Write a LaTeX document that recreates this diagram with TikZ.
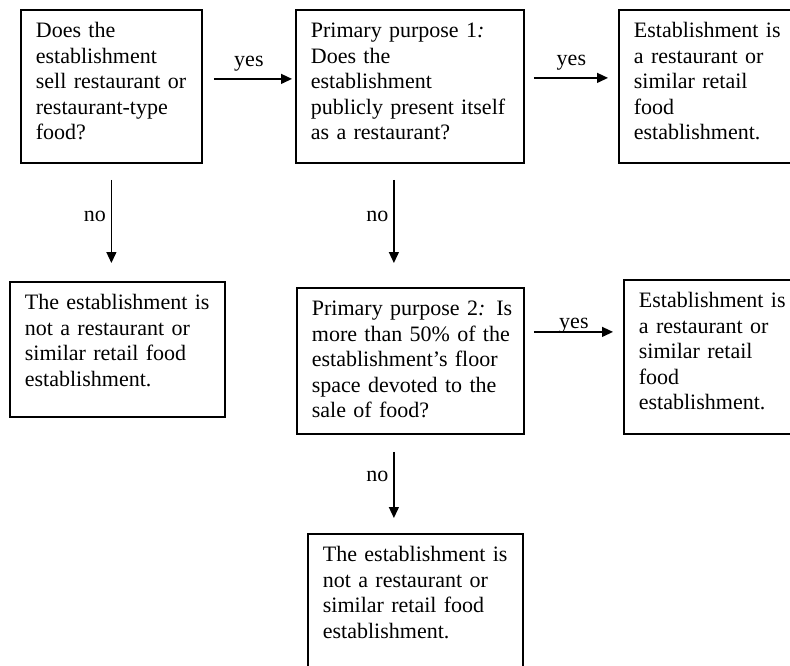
\documentclass[tikz,border=0pt]{standalone}
\usepackage{fontspec}
\setmainfont{Liberation Serif}
\usetikzlibrary{arrows.meta}

\begin{document}
\begin{tikzpicture}[x = 1pt, y = -1pt,
	box/.style = {draw, line width=1.8pt, anchor=north west, align=left, inner xsep=15pt, inner ysep=13pt, text height=15pt, font=\fontsize{22}{25.5}\selectfont},
	arr/.style = {line width=1.3pt, -{Triangle[length=11pt, width=10pt]}},
	lbl/.style = {font=\fontsize{22}{25.5}\selectfont, inner sep=2pt}]
	\useasboundingbox (0, 0) rectangle (790, 665);
	\clip (0, 0) rectangle (790, 665);
	% first row
	\node[box, text width=151pt, text depth=112pt] (sell) at (20, 9) {Does the\\ establishment\\ sell restaurant or\\ restaurant-type\\ food?};
	\node[box, text width=198pt, text depth=112pt] (purp1) at (295, 9) {Primary purpose 1\textit{:}\\ Does the\\ establishment\\ publicly present itself\\ as a restaurant?};
	\node[box, text width=160pt, text depth=112pt] (resto1) at (618, 9) {Establishment is\\ a restaurant or\\ similar retail\\ food\\ establishment.};
	% second row
	\node[box, text width=185pt, text depth=94pt] (notrest1) at (9, 281) {The establishment is\\ not a restaurant or\\ similar retail food\\ establishment.};
	\node[box, inner xsep=10pt, text width=207pt, text depth=105pt] (purp2) at (296, 287) {\hspace{5pt}Primary purpose 2\textit{:} Is\\ \hspace*{5pt}more than 50\% of the\\ \hspace*{5pt}establishment's floor\\ \hspace*{5pt}space devoted to the\\ \hspace*{5pt}sale of food?};
	\node[box, text width=160pt, text depth=113pt] (resto2) at (623, 279) {Establishment is\\ a restaurant or\\ similar retail\\ food\\ establishment.};
	% last one
	\node[box, text width=185pt, text depth=150pt] (notrest2) at (307, 533) {The establishment is\\ not a restaurant or\\ similar retail food\\ establishment.};

	% yes
	\draw[arr, shorten <=11pt, shorten >=3pt] ([yshift=7.5pt]sell.east) -- ([yshift=7.5pt]sell.east -| purp1.west) node[lbl, midway, above=5pt] {yes};
	\draw[arr, shorten <=9pt, shorten >=10pt] ([yshift=8.5pt]purp1.east) -- ([yshift=8.5pt]purp1.east -| resto1.west) node[lbl, midway, above=5pt] {yes};
	\draw[arr, shorten <=9pt, shorten >=10pt] ([yshift=29pt]purp2.east) -- ([yshift=29pt]purp2.east -| resto2.west) node[lbl, midway, above=-4pt] {yes};
	% no
	\draw[arr, shorten <=16pt, shorten >=18pt] (sell.south) -- (sell.south |- notrest1.north) node[lbl, pos=0.45, left=3pt] {no};
	\draw[arr, shorten <=16pt, shorten >=24pt] ([xshift=-16pt]purp1.south) -- ([xshift=-16pt]purp1.south |- purp2.north) node[lbl, pos=0.43, left=3pt] {no};
	\draw[arr, shorten <=17pt, shorten >=15pt] ([xshift=-16.5pt]purp2.south) -- ([xshift=-16.5pt]purp2.south |- notrest2.north) node[lbl, pos=0.42, left=3pt] {no};
\end{tikzpicture}
\end{document}
